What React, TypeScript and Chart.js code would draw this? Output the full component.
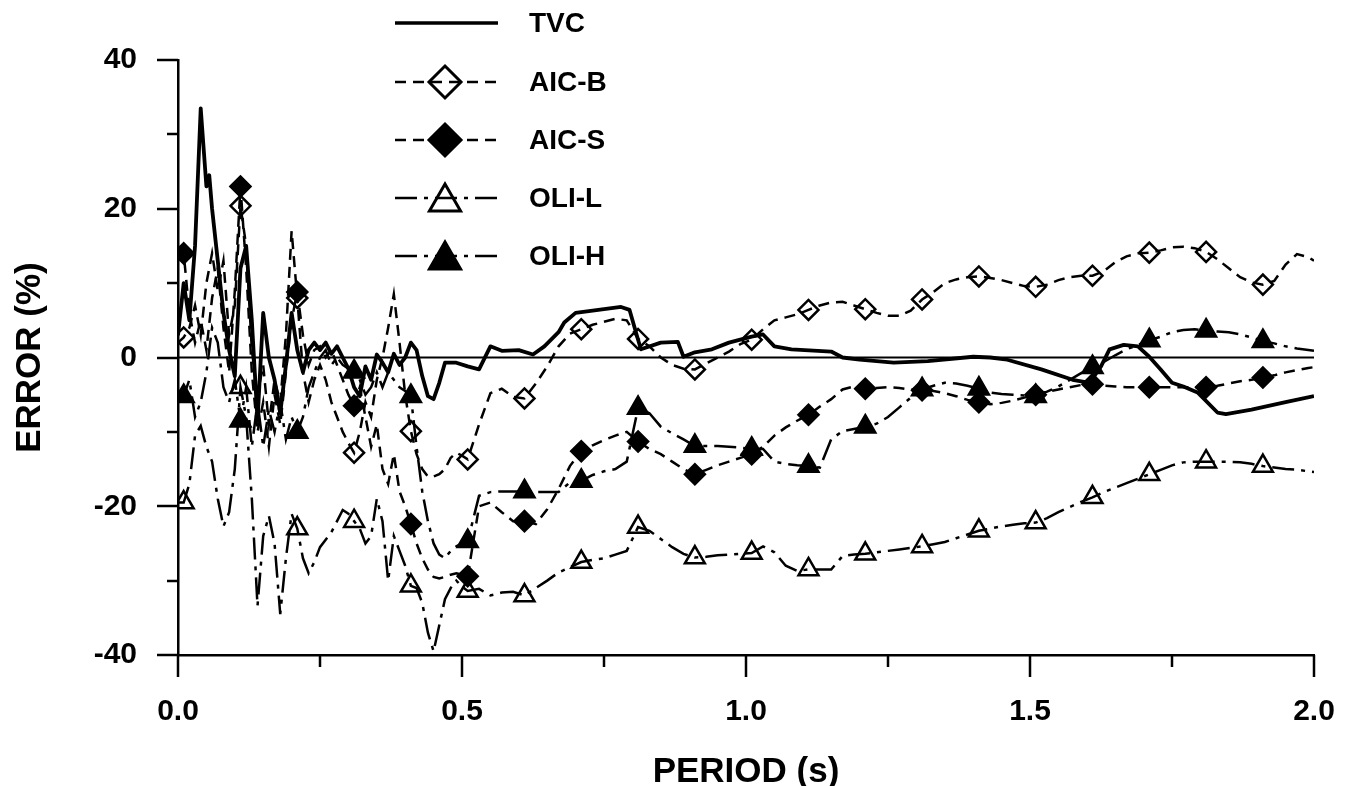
import React, { useEffect, useRef } from 'react';
import { Chart, registerables } from 'chart.js';

Chart.register(...registerables);

// ---------- data ----------
const PERIOD = [
  0.00, 0.01, 0.02, 0.03, 0.04, 0.05, 0.06, 0.07, 0.08, 0.09,
  0.10, 0.11, 0.12, 0.13, 0.14, 0.15, 0.16, 0.17, 0.18, 0.19,
  0.20, 0.21, 0.22, 0.23, 0.24, 0.25, 0.26, 0.27, 0.28, 0.29,
  0.30, 0.31, 0.32, 0.33, 0.34, 0.35, 0.36, 0.37, 0.38, 0.39,
  0.40, 0.41, 0.42, 0.43, 0.44, 0.45, 0.46, 0.47, 0.48, 0.49,
  0.50, 0.51, 0.53, 0.55, 0.57, 0.59, 0.61, 0.63, 0.65, 0.67,
  0.69, 0.71, 0.73, 0.75, 0.77, 0.79, 0.81, 0.83, 0.85, 0.87,
  0.89, 0.91, 0.93, 0.95, 0.97, 0.99, 1.01, 1.03, 1.05, 1.07,
  1.09, 1.11, 1.13, 1.15, 1.17, 1.19, 1.21, 1.23, 1.25, 1.27,
  1.29, 1.31, 1.33, 1.35, 1.37, 1.39, 1.41, 1.43, 1.45, 1.47,
  1.49, 1.51, 1.53, 1.55, 1.57, 1.59, 1.61, 1.63, 1.65, 1.67,
  1.69, 1.71, 1.73, 1.75, 1.77, 1.79, 1.81, 1.83, 1.85, 1.87,
  1.89, 1.91, 1.93, 1.95, 1.97, 1.99, 2.00,
];

const AICB_ERR = [
  2, 2.7, 4, 7, 3, 10, 14, 9, 13, 3,
  7, 20.4, 15, 1, -5, -1, -9, -3, -6, 3,
  17, 8, -2, -6, -3, -1, -3, -6, -8, -10,
  -11.5, -12.8, -10, -6, -8, -3, 0, 4, 8.5, 2,
  -5, -9.9, -13, -15, -16, -16, -15.7, -15, -13.5, -12.8,
  -13.2, -13.7, -9, -4.8, -4.2, -5.3, -5.5, -3.5, -1.2, 1.5,
  3.2, 3.8, 4.4, 4.8, 5.2, 5.0, 2.5, 1.5, 0, -1,
  -1.5, -1.6, -0.8, 0, 0.8, 1.8, 2.4, 3.8, 5, 5.4,
  5.8, 6.4, 7, 7.4, 7.5, 7, 6.5, 6, 5.6, 5.6,
  6.3, 7.8, 8.8, 10, 10.5, 10.8, 10.9, 10.7, 10.4, 10,
  9.6, 9.5, 9.8, 10.4, 10.8, 11, 11, 11.6, 12.8, 13.6,
  14, 14.1, 14.4, 14.8, 14.9, 14.7, 14.2, 13.2, 12, 10.8,
  10.1, 9.8, 10.3, 12.5, 13.9, 13.5, 13,
];

const AICS_ERR = [
  13, 14, 6, 2, 5, 1, 8, 12, 4, -2,
  9, 23, 12, -2, -10, -6, -12, -5, -9, -2,
  5, 8.8, 3, -1, 1, 1.5, 0, 1, -1, -3,
  -5, -6.5, -4, -8, -12, -9, -15, -17, -13, -18,
  -20, -22.4, -25, -27, -28.5, -29.5, -29.7, -29.5, -29.2, -29,
  -29.2, -29.4, -20, -19.5, -20.8, -22, -22, -22.4, -20.4, -17.7,
  -14.6, -12.6, -11.8, -11.1, -10.5, -10, -11.3, -12.3, -13, -14,
  -15, -15.7, -15.1, -14.5, -14, -13.5, -13, -12, -10.5, -9.4,
  -8.5, -7.7, -6.6, -5.6, -4.3, -3.9, -4.2, -4.1, -4, -4.1,
  -4.3, -4.4, -4.5, -4.8, -5.2, -5.7, -6, -6.3, -6.1, -5.8,
  -5.4, -5, -4.6, -4.3, -4, -3.7, -3.6, -3.8, -3.9, -4,
  -4, -4, -4, -4, -4, -4, -4, -3.8, -3.5, -3.2,
  -3, -2.7, -2.4, -2, -1.7, -1.4, -1.3,
];

const OLIL_ERR = [
  -19.5, -19.5, -17, -10.5, -9.2, -12, -14, -19, -22.7, -20.8,
  -15, -4, -8, -19, -33.4, -24, -21.3, -25, -34.5, -27,
  -21, -23, -27, -29, -27.5, -25.5, -24.5, -23.5, -22, -20.5,
  -21, -22, -23, -25, -24, -19, -22, -30, -24, -26,
  -28, -30.7, -31, -33, -37, -39.5, -36, -32.5, -31, -30,
  -30.8, -31.4, -31.1, -32, -31.6, -31.5, -32, -31, -30, -28.9,
  -28.2, -27.5, -27.2, -27, -26.5, -26, -22.8, -23.3, -24.4, -25.5,
  -26.4, -26.9, -26.8, -26.6, -26.5, -26.4, -26.3, -25.4, -26.2, -28,
  -28.7, -28.5, -28.5, -28.5, -26.7, -26.5, -26.4, -26.2, -26, -25.8,
  -25.6, -25.4, -25.1, -24.8, -24.3, -23.8, -23.3, -23, -22.7, -22.5,
  -22.3, -22.2, -21.6, -20.8, -20.1, -19.4, -18.8, -18.1, -17.5, -16.9,
  -16.3, -15.7, -15.1, -14.5, -14.1, -14, -14, -14, -14, -14.1,
  -14.3, -14.6, -14.8, -15, -15.1, -15.3, -15.4,
];

const OLIH_ERR = [
  -5, -5.2, -3, -8, -6, -2, 4, 2, -4, -6,
  -3, -8.5, -4, -12, -6, -12, -7, -10, -6, -11,
  -8, -10, -8, -4, -2, 0, 1, -1, 0, -1,
  -1.5, -1.9, -3, -5, -4, -2, -4, -2, -3, -4,
  -4.5, -5.2, -12, -18, -22, -25, -26.5, -27, -26, -25.4,
  -25, -24.7, -18.6, -18.1, -18, -18, -18, -18.1, -18.1, -18.1,
  -16.8, -16.6, -15.8, -15.3, -15, -14, -6.8, -7.5, -9.3, -10.2,
  -11, -11.9, -11.9, -11.9, -12, -12.1, -12.3, -12.3, -14, -14.3,
  -14.5, -14.6, -14.8, -11, -9.9, -9.6, -9.3, -8.9, -8, -6.7,
  -5.4, -4.3, -3.8, -3.4, -3.5, -3.8, -4.2, -4.7, -4.9, -5,
  -5.1, -5.2, -4.6, -3.9, -3, -2.1, -1.3, -0.6, 0.3, 1.1,
  1.7, 2.3, 2.8, 3.4, 3.7, 3.8, 3.6, 3.5, 3.4, 3.1,
  2.7, 2.2, 1.9, 1.5, 1.2, 1, 0.9,
];

const TVC_PERIOD = [
  0.00, 0.01, 0.02, 0.03, 0.04, 0.05, 0.055, 0.06, 0.07, 0.08,
  0.09, 0.10, 0.11, 0.12, 0.13, 0.14, 0.15, 0.16, 0.17, 0.18,
  0.19, 0.20, 0.21, 0.22, 0.23, 0.24, 0.25, 0.26, 0.27, 0.28,
  0.29, 0.30, 0.31, 0.32, 0.33, 0.34, 0.35, 0.36, 0.37, 0.38,
  0.39, 0.40, 0.41, 0.42, 0.43, 0.44, 0.45, 0.46, 0.47, 0.49,
  0.51, 0.53, 0.55, 0.57, 0.60, 0.625, 0.645, 0.67, 0.68, 0.70,
  0.74, 0.78, 0.795, 0.81, 0.815, 0.85, 0.88, 0.89, 0.91, 0.94,
  0.97, 1.01, 1.03, 1.05, 1.08, 1.15, 1.17, 1.20, 1.26, 1.32,
  1.40, 1.43, 1.46, 1.52, 1.575, 1.605, 1.625, 1.64, 1.665, 1.69,
  1.71, 1.73, 1.75, 1.77, 1.795, 1.83, 1.845, 1.89, 1.95, 2.00,
];

const TVC_ERR = [
  3, 10, 5, 15, 33.5, 23, 24.5, 20, 13, 6,
  1, -2.5, 12, 15, 5, -8.5, 6, 0, -3, -7.5,
  -1, 6, 1, -2, 1, 2, 1, 2, 0.5, 1.5,
  0, -1.5, -4, -5.2, -1.2, -3, 0.4, -0.7, -2, 0.5,
  -1, 0, 2, 1, -2.5, -5.2, -5.6, -3.4, -0.7, -0.7,
  -1.2, -1.6, 1.5, 0.9, 1, 0.4, 1.5, 3.4, 4.7, 6,
  6.4, 6.8, 6.4, 2.4, 1.1, 2, 2.1, 0.1, 0.7, 1.1,
  2, 2.8, 3.1, 1.5, 1.1, 0.8, 0, -0.3, -0.7, -0.5,
  0.1, 0, -0.3, -1.6, -3, -3.4, -1.2, 1.1, 1.7, 1.5,
  0.1, -1.6, -3.4, -3.9, -4.7, -7.4, -7.6, -7, -6, -5.2,
];

const MARKER_PERIODS = [
  0.01, 0.11, 0.21, 0.31, 0.41, 0.51, 0.61, 0.71, 0.81, 0.91,
  1.01, 1.11, 1.21, 1.31, 1.41, 1.51, 1.61, 1.71, 1.81, 1.91,
];

const SERIES_NAMES = ['TVC', 'AIC-B', 'AIC-S', 'OLI-L', 'OLI-H'];
const Y_TICK_VALUES = [-40, -30, -20, -10, 0, 10, 20, 30, 40];
const X_TICK_VALUES = [0, 0.25, 0.5, 0.75, 1, 1.25, 1.5, 1.75, 2];

// ---------- styles ----------
const FONT_FAMILY = "'Liberation Sans', Arial, Helvetica, sans-serif";
const LEGEND_FONT_SIZE = 28;
const TICK_FONT_SIZE = 30;
const TITLE_FONT_SIZE = 35;
const DASH_AIC = [11, 7];
const DASH_OLI = [22, 7, 4, 7];

type MarkerKind = 'none' | 'diamond' | 'triangle';
const LEGEND_STYLE: { kind: MarkerKind; filled: boolean; dash: number[]; width: number }[] = [
  { kind: 'none', filled: false, dash: [], width: 3.5 },
  { kind: 'diamond', filled: false, dash: DASH_AIC, width: 2.5 },
  { kind: 'diamond', filled: true, dash: DASH_AIC, width: 2.5 },
  { kind: 'triangle', filled: false, dash: DASH_OLI, width: 2.5 },
  { kind: 'triangle', filled: true, dash: DASH_OLI, width: 2.5 },
];

const isMarker = (x: number | undefined) =>
  x !== undefined && MARKER_PERIODS.some((m) => Math.abs(m - x) < 1e-6);

function drawMarker(ctx: CanvasRenderingContext2D, kind: MarkerKind, x: number, y: number, r: number, filled: boolean) {
  if (kind === 'none') return;
  ctx.save();
  ctx.setLineDash([]);
  ctx.beginPath();
  if (kind === 'diamond') {
    ctx.moveTo(x, y - r);
    ctx.lineTo(x + r, y);
    ctx.lineTo(x, y + r);
    ctx.lineTo(x - r, y);
  } else {
    ctx.moveTo(x, y - r);
    ctx.lineTo(x + r * Math.sin((2 * Math.PI) / 3), y + r / 2);
    ctx.lineTo(x - r * Math.sin((2 * Math.PI) / 3), y + r / 2);
  }
  ctx.closePath();
  if (filled) {
    ctx.fillStyle = '#000';
    ctx.fill();
  }
  ctx.lineWidth = 3;
  ctx.strokeStyle = '#000';
  ctx.stroke();
  ctx.restore();
}

const overlayPlugin = {
  id: 'overlay',
  beforeDatasetsDraw(chart: any) {
    const { ctx, chartArea, scales } = chart;
    const y0 = scales.y.getPixelForValue(0);
    ctx.save();
    ctx.strokeStyle = '#000';
    ctx.lineWidth = 2;
    ctx.beginPath();
    ctx.moveTo(chartArea.left, y0);
    ctx.lineTo(chartArea.right, y0);
    ctx.stroke();
    ctx.restore();
  },
  afterDraw(chart: any) {
    const { ctx, chartArea, scales } = chart;
    ctx.save();
    ctx.strokeStyle = '#000';
    ctx.lineWidth = 2.5;
    ctx.setLineDash([]);
    Y_TICK_VALUES.forEach((v) => {
      const py = Math.round(scales.y.getPixelForValue(v));
      const len = v % 20 === 0 ? 21 : 11;
      ctx.beginPath();
      ctx.moveTo(chartArea.left - len, py);
      ctx.lineTo(chartArea.left, py);
      ctx.stroke();
    });
    X_TICK_VALUES.forEach((v) => {
      const px = Math.round(scales.x.getPixelForValue(v));
      const major = Math.abs(v * 2 - Math.round(v * 2)) < 1e-9;
      const len = major ? 22 : 12;
      ctx.beginPath();
      ctx.moveTo(px, chartArea.bottom);
      ctx.lineTo(px, chartArea.bottom + len);
      ctx.stroke();
    });

    // legend
    const rowsY = [23, 82, 140, 198, 256];
    const lineX0 = 395;
    const lineX1 = 498;
    const markX = 445;
    const textX = 529;
    ctx.font = `bold ${LEGEND_FONT_SIZE}px ${FONT_FAMILY}`;
    ctx.textBaseline = 'middle';
    ctx.textAlign = 'left';
    ctx.fillStyle = '#000';
    SERIES_NAMES.forEach((name, i) => {
      const st = LEGEND_STYLE[i];
      const y = rowsY[i];
      ctx.save();
      ctx.lineWidth = st.width;
      ctx.setLineDash(st.dash);
      ctx.beginPath();
      ctx.moveTo(lineX0, y);
      ctx.lineTo(lineX1, y);
      ctx.stroke();
      ctx.restore();
      drawMarker(ctx, st.kind, markX, st.kind === 'triangle' ? y + 4 : y, st.kind === 'triangle' ? 18 : 16, st.filled);
      ctx.fillText(name, textX, y + 1);
    });
    ctx.restore();
  },
};

function makeSeries(label: string, ys: number[], pointStyle: string, filled: boolean, dash: number[], radius: number) {
  return {
    label,
    data: PERIOD.map((x, i) => ({ x, y: ys[i] })),
    borderColor: '#000',
    borderWidth: 2.5,
    borderDash: dash,
    pointStyle,
    pointRadius: (c: any) => (c && c.raw && isMarker(c.raw.x) ? radius : 0),
    pointHoverRadius: 0,
    pointBackgroundColor: filled ? '#000' : 'rgba(0,0,0,0)',
    pointBorderColor: '#000',
    pointBorderWidth: 2.5,
    fill: false,
    tension: 0,
  };
}

export default function App() {
  const canvasRef = useRef<HTMLCanvasElement | null>(null);

  useEffect(() => {
    document.body.style.margin = '0';
    const canvas = canvasRef.current;
    if (!canvas) return;
    Chart.defaults.color = '#000';
    Chart.defaults.font.family = FONT_FAMILY;

    const chart = new Chart(canvas, {
      type: 'line',
      data: {
        datasets: [
          {
            label: SERIES_NAMES[0],
            data: TVC_PERIOD.map((x, i) => ({ x, y: TVC_ERR[i] })),
            borderColor: '#000',
            borderWidth: 3.8,
            borderJoinStyle: 'round',
            pointRadius: 0,
            pointHoverRadius: 0,
            fill: false,
            tension: 0,
          } as any,
          makeSeries(SERIES_NAMES[1], AICB_ERR, 'rectRot', false, DASH_AIC, 10) as any,
          makeSeries(SERIES_NAMES[2], AICS_ERR, 'rectRot', true, DASH_AIC, 10) as any,
          makeSeries(SERIES_NAMES[3], OLIL_ERR, 'triangle', false, DASH_OLI, 11.5) as any,
          makeSeries(SERIES_NAMES[4], OLIH_ERR, 'triangle', true, DASH_OLI, 11.5) as any,
        ],
      },
      options: {
        responsive: false,
        animation: false,
        devicePixelRatio: 1,
        events: [],
        layout: { padding: { left: 0, right: 32, top: 60, bottom: 0 } },
        plugins: {
          legend: { display: false },
          tooltip: { enabled: false },
          title: { display: false },
        },
        scales: {
          x: {
            type: 'linear',
            min: 0,
            max: 2,
            grid: { display: false, drawTicks: false, tickLength: 0 },
            border: { display: true, color: '#000', width: 2.5 },
            ticks: {
              stepSize: 0.5,
              padding: 42,
              maxRotation: 0,
              autoSkip: false,
              font: { size: TICK_FONT_SIZE, weight: 'bold', lineHeight: 1 },
              color: '#000',
              callback: (v: any) => Number(v).toFixed(1),
            },
            title: {
              display: true,
              text: 'PERIOD (s)',
              color: '#000',
              font: { size: TITLE_FONT_SIZE, weight: 'bold', lineHeight: 1 },
              padding: { top: 0, bottom: -4 },
            },
            afterFit: (scale: any) => {
              scale.height = 131;
              scale.paddingLeft = 0;
              scale.paddingRight = 0;
            },
          },
          y: {
            type: 'linear',
            min: -40,
            max: 40,
            grid: { display: false, drawTicks: false, tickLength: 0 },
            border: { display: true, color: '#000', width: 2.5 },
            ticks: {
              stepSize: 20,
              padding: 41,
              font: { size: TICK_FONT_SIZE, weight: 'bold', lineHeight: 1 },
              color: '#000',
              callback: (v: any) => String(v),
            },
            title: {
              display: true,
              text: 'ERROR (%)',
              color: '#000',
              font: { size: TITLE_FONT_SIZE, weight: 'bold', lineHeight: 1 },
              padding: { top: 13, bottom: 0 },
            },
            afterFit: (scale: any) => {
              scale.width = 178;
              scale.paddingTop = 0;
              scale.paddingBottom = 0;
            },
          },
        },
      } as any,
      plugins: [overlayPlugin],
    });

    return () => {
      chart.destroy();
    };
  }, []);

  return (
    <div style={{ position: 'absolute', left: 0, top: 0, width: 1346, height: 786, background: '#fff' }}>
      <canvas ref={canvasRef} width={1346} height={786} style={{ display: 'block' }} />
    </div>
  );
}
